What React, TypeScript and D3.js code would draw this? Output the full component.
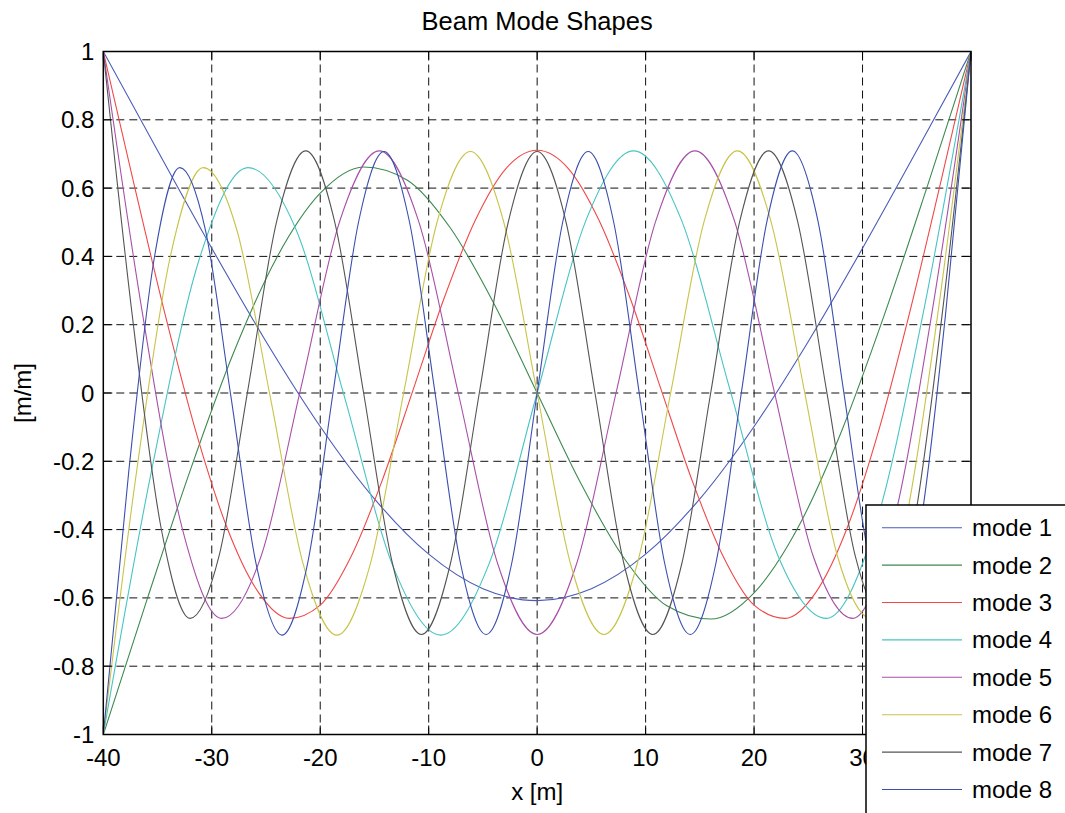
import React from "react";
import * as d3 from "d3";

// Sample grid spans the beam from x = -40 m to x = 40 m (values sampled evenly)
const xStart = -40;
const xEnd = 40;

// Mode shape values, evenly spaced from xStart to xEnd
const mode1 = [1, 0.71, 0.424, 0.151, -0.098, -0.31, -0.472, -0.573, -0.608, -0.573, -0.472, -0.31, -0.098, 0.151, 0.424, 0.71, 1];
const mode2 = [-1, -0.608, -0.228, 0.117, 0.397, 0.585, 0.662, 0.624, 0.483, 0.263, 0, -0.263, -0.483, -0.624, -0.662, -0.585, -0.397, -0.117, 0.228, 0.608, 1];
const mode3 = [1, 0.608, 0.228, -0.117, -0.396, -0.583, -0.66, -0.621, -0.478, -0.256, 0.01, 0.278, 0.505, 0.658, 0.711, 0.658, 0.505, 0.278, 0.01, -0.256, -0.478, -0.621, -0.66, -0.583, -0.396, -0.117, 0.228, 0.608, 1];
const mode4 = [-1, -0.228, 0.396, 0.66, 0.478, -0.01, -0.504, -0.709, -0.501, 0, 0.501, 0.709, 0.504, 0.01, -0.478, -0.66, -0.396, 0.228, 1];
const mode5 = [1, 0.228, -0.396, -0.66, -0.478, 0.01, 0.505, 0.709, 0.501, 0, -0.5, -0.707, -0.5, 0, 0.501, 0.709, 0.505, 0.01, -0.478, -0.66, -0.396, 0.228, 1];
const mode6 = [-1, -0.228, 0.396, 0.66, 0.478, -0.01, -0.505, -0.709, -0.501, 0, 0.5, 0.707, 0.5, 0, -0.5, -0.707, -0.5, 0, 0.501, 0.709, 0.505, 0.01, -0.478, -0.66, -0.396, 0.228, 1];
const mode7 = [1, 0.228, -0.396, -0.66, -0.478, 0.01, 0.505, 0.709, 0.501, 0, -0.5, -0.707, -0.5, 0, 0.5, 0.707, 0.5, 0, -0.5, -0.707, -0.5, 0, 0.501, 0.709, 0.505, 0.01, -0.478, -0.66, -0.396, 0.228, 1];
const mode8 = [-1, -0.228, 0.396, 0.66, 0.478, -0.01, -0.505, -0.709, -0.501, 0, 0.5, 0.707, 0.5, 0, -0.5, -0.707, -0.5, 0, 0.5, 0.707, 0.5, 0, -0.5, -0.707, -0.5, 0, 0.501, 0.709, 0.505, 0.01, -0.478, -0.66, -0.396, 0.228, 1];

const modeNames = ["mode 1", "mode 2", "mode 3", "mode 4", "mode 5", "mode 6", "mode 7", "mode 8"];
const modeValues = [mode1, mode2, mode3, mode4, mode5, mode6, mode7, mode8];
const modeColors = ["#4a5cb8", "#3d8a50", "#f04848", "#48c4c4", "#a850a8", "#c8c448", "#555555", "#3b4fae"];

const xTicks = [-40, -30, -20, -10, 0, 10, 20, 30, 40];
const yTicks = [-1, -0.8, -0.6, -0.4, -0.2, 0, 0.2, 0.4, 0.6, 0.8, 1];

const title = "Beam Mode Shapes";
const xLabel = "x [m]";
const yLabel = "[m/m]";

const W = 1065;
const H = 813;
const plot = { left: 103.3, right: 971, top: 51.5, bottom: 734.5 };
const FONT = "'Liberation Sans', Arial, Helvetica, sans-serif";

export default function App() {
  const x = d3.scaleLinear().domain([xStart, xEnd]).range([plot.left, plot.right]);
  const y = d3.scaleLinear().domain([-1, 1]).range([plot.bottom, plot.top]);

  const line = d3
    .line<[number, number]>()
    .x((d) => x(d[0]))
    .y((d) => y(d[1]))
    .curve(d3.curveMonotoneX);

  const seriesPoints = modeValues.map((vals) => {
    const n = vals.length;
    return vals.map((v, i) => [xStart + ((xEnd - xStart) * i) / (n - 1), v] as [number, number]);
  });

  const legend = { left: 866, top: 505, rowY0: 527.7, rowStep: 37.4, lineX0: 882, lineX1: 962, textX: 972 };
  const tickLen = 9;

  return (
    <svg
      width={W}
      height={H}
      viewBox={`0 0 ${W} ${H}`}
      style={{ position: "absolute", left: 0, top: 0, background: "#fff" }}
      fontFamily={FONT}
    >
      <defs>
        <clipPath id="plotClip">
          <rect x={plot.left} y={plot.top} width={plot.right - plot.left} height={plot.bottom - plot.top} />
        </clipPath>
      </defs>
      <rect x={0} y={0} width={W} height={H} fill="#fff" />

      {/* grid */}
      <g stroke="#111" strokeWidth={1} strokeDasharray="8,5" fill="none">
        {xTicks
          .filter((t) => t !== xStart && t !== xEnd)
          .map((t) => (
            <line key={`gx${t}`} x1={x(t)} x2={x(t)} y1={plot.top} y2={plot.bottom} />
          ))}
        {yTicks
          .filter((t) => t !== -1 && t !== 1)
          .map((t) => (
            <line key={`gy${t}`} x1={plot.left} x2={plot.right} y1={y(t)} y2={y(t)} />
          ))}
      </g>

      {/* curves */}
      <g clipPath="url(#plotClip)" fill="none" strokeWidth={1.1}>
        {seriesPoints.map((pts, i) => (
          <path key={modeNames[i]} d={line(pts) || ""} stroke={modeColors[i]} />
        ))}
      </g>

      {/* ticks */}
      <g stroke="#000" strokeWidth={1}>
        {xTicks.map((t) => (
          <g key={`tx${t}`}>
            <line x1={x(t)} x2={x(t)} y1={plot.bottom} y2={plot.bottom - tickLen} />
            <line x1={x(t)} x2={x(t)} y1={plot.top} y2={plot.top + tickLen} />
          </g>
        ))}
        {yTicks.map((t) => (
          <g key={`ty${t}`}>
            <line x1={plot.left} x2={plot.left + tickLen} y1={y(t)} y2={y(t)} />
            <line x1={plot.right} x2={plot.right - tickLen} y1={y(t)} y2={y(t)} />
          </g>
        ))}
      </g>

      {/* frame */}
      <rect
        x={plot.left}
        y={plot.top}
        width={plot.right - plot.left}
        height={plot.bottom - plot.top}
        fill="none"
        stroke="#000"
        strokeWidth={1.5}
      />

      {/* tick labels */}
      <g fontSize={24} fill="#000">
        {xTicks.map((t) => (
          <text key={`lx${t}`} x={x(t)} y={plot.bottom + 31} textAnchor="middle">
            {String(t)}
          </text>
        ))}
        {yTicks.map((t) => (
          <text key={`ly${t}`} x={plot.left - 9} y={y(t)} textAnchor="end" dominantBaseline="central">
            {String(t)}
          </text>
        ))}
      </g>

      {/* title & axis labels */}
      <text x={(plot.left + plot.right) / 2} y={29.5} textAnchor="middle" fontSize={25.5} fill="#000">
        {title}
      </text>
      <text x={(plot.left + plot.right) / 2} y={800} textAnchor="middle" fontSize={24} fill="#000">
        {xLabel}
      </text>
      <text
        transform={`translate(31, ${(plot.top + plot.bottom) / 2}) rotate(-90)`}
        textAnchor="middle"
        fontSize={24}
        fill="#000"
      >
        {yLabel}
      </text>

      {/* legend */}
      <g>
        <rect x={legend.left} y={legend.top} width={W - legend.left + 20} height={H - legend.top + 20} fill="#fff" stroke="#000" strokeWidth={1.5} />
        {modeNames.map((name, i) => {
          const ly = legend.rowY0 + i * legend.rowStep;
          return (
            <g key={`leg${name}`}>
              <line x1={legend.lineX0} x2={legend.lineX1} y1={ly} y2={ly} stroke={modeColors[i]} strokeWidth={1.1} />
              <text x={legend.textX} y={ly} dominantBaseline="central" fontSize={24} fill="#000">
                {name}
              </text>
            </g>
          );
        })}
      </g>
    </svg>
  );
}
